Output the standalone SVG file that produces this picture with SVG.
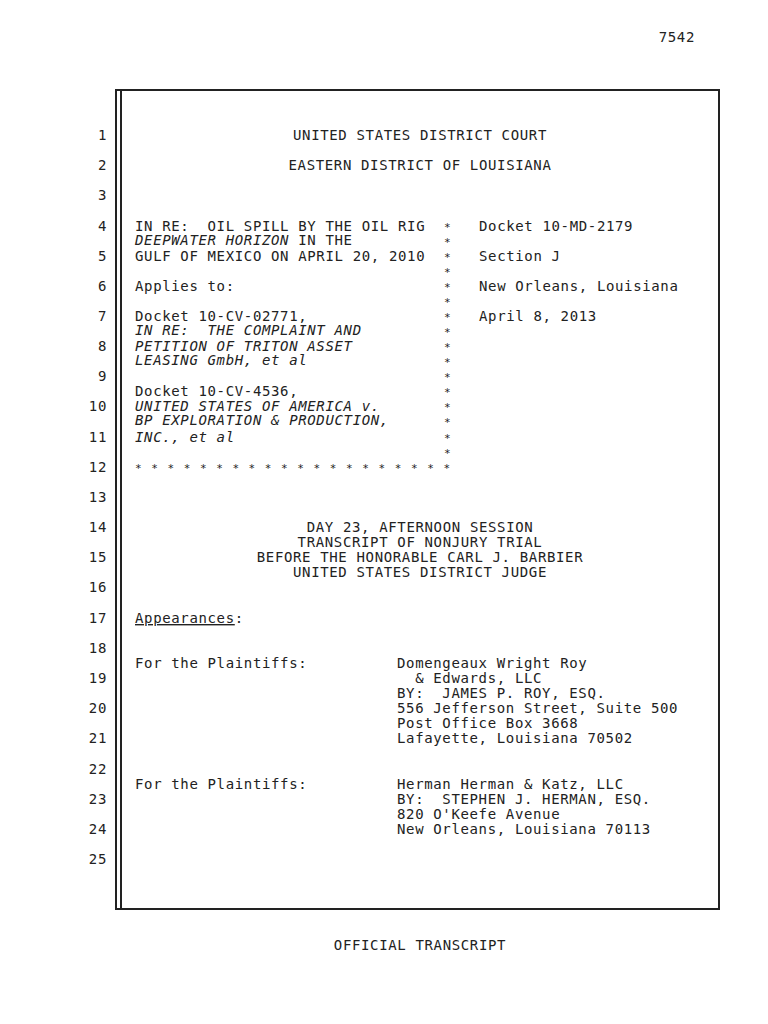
<svg xmlns="http://www.w3.org/2000/svg" width="768" height="1024" viewBox="0 0 768 1024">
<style>
text{font-family:"DejaVu Sans Mono","Liberation Mono",monospace;font-size:14px;letter-spacing:0.64px;fill:#222;white-space:pre}
.n{text-anchor:end}
.c{text-anchor:middle}
.i{font-style:italic}
.s{font-size:11px;letter-spacing:0}
</style>
<rect width="768" height="1024" fill="#fff"/>
<text x="695" y="42" class="n">7542</text>
<g id="border" fill="none" stroke="#222">
<rect x="116" y="90" width="603" height="819" stroke-width="2"/>
<line x1="121" y1="90" x2="121" y2="909" stroke-width="2"/>
</g>
<g id="linenumbers">
<text x="107" y="140" class="n">1</text>
<text x="107" y="170" class="n">2</text>
<text x="107" y="200" class="n">3</text>
<text x="107" y="231" class="n">4</text>
<text x="107" y="261" class="n">5</text>
<text x="107" y="291" class="n">6</text>
<text x="107" y="321" class="n">7</text>
<text x="107" y="351" class="n">8</text>
<text x="107" y="381" class="n">9</text>
<text x="107" y="411" class="n">10</text>
<text x="107" y="442" class="n">11</text>
<text x="107" y="472" class="n">12</text>
<text x="107" y="502" class="n">13</text>
<text x="107" y="532" class="n">14</text>
<text x="107" y="562" class="n">15</text>
<text x="107" y="592" class="n">16</text>
<text x="107" y="623" class="n">17</text>
<text x="107" y="653" class="n">18</text>
<text x="107" y="683" class="n">19</text>
<text x="107" y="713" class="n">20</text>
<text x="107" y="743" class="n">21</text>
<text x="107" y="774" class="n">22</text>
<text x="107" y="804" class="n">23</text>
<text x="107" y="834" class="n">24</text>
<text x="107" y="864" class="n">25</text>
</g>
<g id="heading">
<text x="420" y="140" class="c">UNITED STATES DISTRICT COURT</text>
<text x="420" y="170" class="c">EASTERN DISTRICT OF LOUISIANA</text>
</g>
<g id="caption">
<text x="135" y="231">IN RE:  OIL SPILL BY THE OIL RIG</text>
<text x="135" y="245"><tspan class="i">DEEPWATER HORIZON</tspan> IN THE</text>
<text x="135" y="261">GULF OF MEXICO ON APRIL 20, 2010</text>
<text x="135" y="291">Applies to:</text>
<text x="135" y="321">Docket 10-CV-02771,</text>
<text x="135" y="335" class="i">IN RE:  THE COMPLAINT AND</text>
<text x="135" y="351" class="i">PETITION OF TRITON ASSET</text>
<text x="135" y="365" class="i">LEASING GmbH, et al</text>
<text x="135" y="396">Docket 10-CV-4536,</text>
<text x="135" y="411" class="i">UNITED STATES OF AMERICA v.</text>
<text x="135" y="425" class="i">BP EXPLORATION &amp; PRODUCTION,</text>
<text x="135" y="442" class="i">INC., et al</text>
<text x="135" y="472" class="s" textLength="315" lengthAdjust="spacing">* * * * * * * * * * * * * * * * * * * *</text>
</g>
<g id="stars">
<text x="444" y="231" class="s">*</text><text x="444" y="246" class="s">*</text>
<text x="444" y="261" class="s">*</text><text x="444" y="276" class="s">*</text>
<text x="444" y="291" class="s">*</text><text x="444" y="306" class="s">*</text>
<text x="444" y="321" class="s">*</text><text x="444" y="336" class="s">*</text>
<text x="444" y="351" class="s">*</text><text x="444" y="366" class="s">*</text>
<text x="444" y="381" class="s">*</text><text x="444" y="396" class="s">*</text>
<text x="444" y="411" class="s">*</text><text x="444" y="426" class="s">*</text>
<text x="444" y="442" class="s">*</text><text x="444" y="457" class="s">*</text>
</g>
<g id="docket">
<text x="479" y="231">Docket 10-MD-2179</text>
<text x="479" y="261">Section J</text>
<text x="479" y="291">New Orleans, Louisiana</text>
<text x="479" y="321">April 8, 2013</text>
</g>
<g id="session">
<text x="420" y="532" class="c">DAY 23, AFTERNOON SESSION</text>
<text x="420" y="547" class="c">TRANSCRIPT OF NONJURY TRIAL</text>
<text x="420" y="562" class="c">BEFORE THE HONORABLE CARL J. BARBIER</text>
<text x="420" y="577" class="c">UNITED STATES DISTRICT JUDGE</text>
</g>
<g id="appearances">
<text x="135" y="623"><tspan text-decoration="underline">Appearances</tspan>:</text>
<text x="135" y="668">For the Plaintiffs:</text>
<text x="397" y="668">Domengeaux Wright Roy</text>
<text x="397" y="683">  &amp; Edwards, LLC</text>
<text x="397" y="698">BY:  JAMES P. ROY, ESQ.</text>
<text x="397" y="713">556 Jefferson Street, Suite 500</text>
<text x="397" y="728">Post Office Box 3668</text>
<text x="397" y="743">Lafayette, Louisiana 70502</text>
<text x="135" y="789">For the Plaintiffs:</text>
<text x="397" y="789">Herman Herman &amp; Katz, LLC</text>
<text x="397" y="804">BY:  STEPHEN J. HERMAN, ESQ.</text>
<text x="397" y="819">820 O'Keefe Avenue</text>
<text x="397" y="834">New Orleans, Louisiana 70113</text>
</g>
<text x="420" y="950" class="c">OFFICIAL TRANSCRIPT</text>
</svg>
